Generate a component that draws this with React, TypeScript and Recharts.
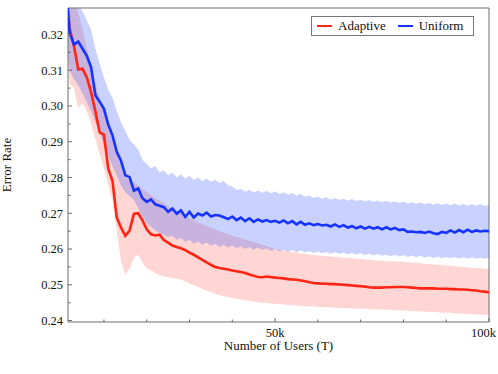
import { ComposedChart, Area, Line, XAxis, YAxis, ReferenceArea, Label } from 'recharts';

// number of users, in thousands
const USERS_K = [
  1, 2, 3, 4, 5, 6, 7, 8, 9, 10, 11, 12, 13, 14, 15, 16, 17, 18, 19, 20,
  21, 22, 23, 24, 25, 26, 27, 28, 29, 30, 31, 32, 33, 34, 35, 36, 37, 38, 39, 40,
  41, 42, 43, 44, 45, 46, 47, 48, 49, 50, 51, 52, 53, 54, 55, 56, 57, 58, 59, 60,
  61, 62, 63, 64, 65, 66, 67, 68, 69, 70, 71, 72, 73, 74, 75, 76, 77, 78, 79, 80,
  81, 82, 83, 84, 85, 86, 87, 88, 89, 90, 91, 92, 93, 94, 95, 96, 97, 98, 99, 100,
];

const ADAPTIVE_MEAN = [
  0.3330, 0.3215, 0.3168, 0.3102, 0.3104, 0.3080, 0.3038, 0.2985, 0.2926, 0.2920,
  0.2825, 0.2790, 0.2688, 0.2660, 0.2637, 0.2652, 0.2698, 0.2700, 0.2680, 0.2655,
  0.2641, 0.2638, 0.2640, 0.2625, 0.2618, 0.2610, 0.2606, 0.2602, 0.2597, 0.2590,
  0.2584, 0.2577, 0.2570, 0.2563, 0.2556, 0.2550, 0.2547, 0.2545, 0.2543, 0.2540,
  0.2538, 0.2536, 0.2533, 0.2529, 0.2525, 0.2522, 0.2521, 0.2523, 0.2522, 0.2520,
  0.2519, 0.2518, 0.2516, 0.2515, 0.2514, 0.2512, 0.2510, 0.2507, 0.2505, 0.2504,
  0.2503, 0.2503, 0.2502, 0.2502, 0.2501, 0.2500, 0.2499, 0.2498, 0.2497, 0.2496,
  0.2495, 0.2493, 0.2492, 0.2492, 0.2492, 0.2493, 0.2493, 0.2494, 0.2494, 0.2494,
  0.2493, 0.2492, 0.2491, 0.2490, 0.2490, 0.2490, 0.2490, 0.2489, 0.2489, 0.2489,
  0.2488, 0.2488, 0.2487, 0.2487, 0.2486, 0.2485, 0.2484, 0.2482, 0.2481, 0.2479,
];

const ADAPTIVE_LOW = [
  0.3220, 0.3062, 0.3050, 0.2995, 0.3008, 0.2985, 0.2950, 0.2908, 0.2865, 0.2825,
  0.2780, 0.2735, 0.2650, 0.2565, 0.2528, 0.2545, 0.2576, 0.2584, 0.2562, 0.2546,
  0.2540, 0.2533, 0.2527, 0.2523, 0.2521, 0.2519, 0.2517, 0.2514, 0.2509, 0.2504,
  0.2499, 0.2494, 0.2488, 0.2484, 0.2479, 0.2475, 0.2471, 0.2468, 0.2466, 0.2463,
  0.2461, 0.2459, 0.2457, 0.2455, 0.2453, 0.2451, 0.2450, 0.2449, 0.2448, 0.2447,
  0.2446, 0.2445, 0.2444, 0.2443, 0.2442, 0.2441, 0.2440, 0.2440, 0.2439, 0.2438,
  0.2438, 0.2437, 0.2437, 0.2436, 0.2436, 0.2435, 0.2435, 0.2434, 0.2434, 0.2433,
  0.2433, 0.2432, 0.2432, 0.2431, 0.2431, 0.2430, 0.2430, 0.2429, 0.2429, 0.2428,
  0.2428, 0.2427, 0.2426, 0.2426, 0.2425, 0.2424, 0.2424, 0.2423, 0.2422, 0.2422,
  0.2421, 0.2420, 0.2420, 0.2419, 0.2418, 0.2418, 0.2417, 0.2416, 0.2416, 0.2415,
];

const ADAPTIVE_HIGH = [
  0.3420, 0.3340, 0.3295, 0.3260, 0.3215, 0.3160, 0.3110, 0.3062, 0.3020, 0.2985,
  0.2948, 0.2905, 0.2865, 0.2830, 0.2800, 0.2793, 0.2786, 0.2778, 0.2768, 0.2760,
  0.2751, 0.2742, 0.2735, 0.2728, 0.2720, 0.2713, 0.2706, 0.2700, 0.2693, 0.2686,
  0.2680, 0.2675, 0.2670, 0.2665, 0.2660, 0.2655, 0.2650, 0.2646, 0.2642, 0.2638,
  0.2634, 0.2630, 0.2627, 0.2623, 0.2620, 0.2616, 0.2612, 0.2608, 0.2604, 0.2600,
  0.2598, 0.2596, 0.2594, 0.2592, 0.2590, 0.2588, 0.2586, 0.2585, 0.2583, 0.2582,
  0.2581, 0.2580, 0.2579, 0.2578, 0.2577, 0.2576, 0.2575, 0.2574, 0.2573, 0.2572,
  0.2571, 0.2570, 0.2569, 0.2568, 0.2567, 0.2566, 0.2566, 0.2565, 0.2565, 0.2564,
  0.2563, 0.2562, 0.2561, 0.2560, 0.2559, 0.2558, 0.2557, 0.2556, 0.2555, 0.2554,
  0.2553, 0.2552, 0.2551, 0.2550, 0.2549, 0.2548, 0.2547, 0.2546, 0.2545, 0.2544,
];

const UNIFORM_MEAN = [
  0.3360, 0.3204, 0.3172, 0.3180, 0.3160, 0.3140, 0.3108, 0.3030, 0.3012, 0.2992,
  0.2948, 0.2918, 0.2872, 0.2846, 0.2806, 0.2801, 0.2763, 0.2769, 0.2742, 0.2732,
  0.2739, 0.2725, 0.2721, 0.2717, 0.2704, 0.2713, 0.2699, 0.2708, 0.2690, 0.2704,
  0.2688, 0.2699, 0.2694, 0.2702, 0.2691, 0.2695, 0.2694, 0.2689, 0.2684, 0.2691,
  0.2681, 0.2688, 0.2678, 0.2686, 0.2676, 0.2683, 0.2677, 0.2681, 0.2676, 0.2679,
  0.2674, 0.2680, 0.2672, 0.2678, 0.2669, 0.2676, 0.2668, 0.2672, 0.2667, 0.2670,
  0.2666, 0.2668, 0.2663, 0.2669, 0.2662, 0.2667, 0.2660, 0.2664, 0.2658, 0.2663,
  0.2657, 0.2662, 0.2657, 0.2661, 0.2655, 0.2661, 0.2655, 0.2659, 0.2653, 0.2655,
  0.2648, 0.2649, 0.2647, 0.2648, 0.2645, 0.2649, 0.2644, 0.2642, 0.2648, 0.2645,
  0.2652, 0.2646, 0.2653, 0.2647, 0.2654, 0.2648, 0.2652, 0.2649, 0.2651, 0.2650,
];

const UNIFORM_LOW = [
  0.3180, 0.3100, 0.3075, 0.3058, 0.3035, 0.3010, 0.2985, 0.2955, 0.2925, 0.2890,
  0.2860, 0.2832, 0.2805, 0.2778, 0.2758, 0.2748, 0.2738, 0.2715, 0.2692, 0.2672,
  0.2662, 0.2652, 0.2645, 0.2640, 0.2633, 0.2637, 0.2626, 0.2631, 0.2620, 0.2626,
  0.2615, 0.2621, 0.2612, 0.2618, 0.2609, 0.2615, 0.2606, 0.2612, 0.2604, 0.2610,
  0.2602, 0.2608, 0.2600, 0.2606, 0.2598, 0.2604, 0.2597, 0.2602, 0.2595, 0.2600,
  0.2594, 0.2598, 0.2592, 0.2597, 0.2591, 0.2596, 0.2590, 0.2594, 0.2589, 0.2593,
  0.2588, 0.2592, 0.2587, 0.2591, 0.2586, 0.2590, 0.2585, 0.2589, 0.2584, 0.2588,
  0.2583, 0.2587, 0.2582, 0.2586, 0.2581, 0.2585, 0.2580, 0.2584, 0.2579, 0.2583,
  0.2578, 0.2582, 0.2577, 0.2581, 0.2576, 0.2580, 0.2575, 0.2579, 0.2574, 0.2578,
  0.2574, 0.2578, 0.2573, 0.2577, 0.2573, 0.2577, 0.2573, 0.2576, 0.2573, 0.2576,
];

const UNIFORM_HIGH = [
  0.3450, 0.3360, 0.3310, 0.3280, 0.3265, 0.3240, 0.3212, 0.3160, 0.3118, 0.3080,
  0.3045, 0.3022, 0.2985, 0.2955, 0.2930, 0.2905, 0.2892, 0.2878, 0.2848, 0.2838,
  0.2826, 0.2832, 0.2814, 0.2820, 0.2806, 0.2813, 0.2800, 0.2809, 0.2797, 0.2805,
  0.2793, 0.2800, 0.2790, 0.2797, 0.2788, 0.2794, 0.2785, 0.2790, 0.2778, 0.2775,
  0.2765, 0.2768, 0.2760, 0.2766, 0.2758, 0.2764, 0.2757, 0.2763, 0.2756, 0.2761,
  0.2754, 0.2759, 0.2752, 0.2757, 0.2749, 0.2754, 0.2746, 0.2750, 0.2743, 0.2747,
  0.2740, 0.2745, 0.2738, 0.2743, 0.2737, 0.2741, 0.2735, 0.2740, 0.2734, 0.2738,
  0.2733, 0.2737, 0.2732, 0.2736, 0.2731, 0.2735, 0.2730, 0.2733, 0.2729, 0.2732,
  0.2727, 0.2731, 0.2726, 0.2730, 0.2725, 0.2729, 0.2724, 0.2728, 0.2723, 0.2727,
  0.2722, 0.2727, 0.2722, 0.2726, 0.2721, 0.2726, 0.2721, 0.2725, 0.2721, 0.2723,
];

const Y_TICKS = [
  0.24, 0.245, 0.25, 0.255, 0.26, 0.265, 0.27, 0.275, 0.28, 0.285,
  0.29, 0.295, 0.3, 0.305, 0.31, 0.315, 0.32, 0.325,
];
const X_TICKS = [10, 20, 30, 40, 50, 60, 70, 80, 90, 100];
const X_LABELS: Record<number, string> = { 50: '50k', 100: '100k' };

const X_DOMAIN: [number, number] = [1.6, 100];
const Y_DOMAIN: [number, number] = [0.2396, 0.3274];

const RED = '#ff2414';
const BLUE = '#1633ff';
const FONT = 'Liberation Serif, DejaVu Serif, serif';
const TICK_MARGIN = 5;

const SERIES = [
  { name: 'Adaptive', color: RED },
  { name: 'Uniform', color: BLUE },
];

const data = USERS_K.map((u, i) => ({
  users: u,
  adaptive: ADAPTIVE_MEAN[i],
  uniform: UNIFORM_MEAN[i],
  adaptiveBand: [ADAPTIVE_LOW[i], ADAPTIVE_HIGH[i]],
  uniformBand: [UNIFORM_LOW[i], UNIFORM_HIGH[i]],
}));

const isMajor = (v: number) => Math.abs(v * 100 - Math.round(v * 100)) < 1e-6;
const textStyle = { fontFamily: FONT, fontSize: 12.5, fill: '#111' };

function YTick({ x, y, payload }: any) {
  const axisX = x + TICK_MARGIN;
  const major = isMajor(payload.value);
  return (
    <g>
      <line x1={axisX} x2={axisX + (major ? 4 : 2.5)} y1={y} y2={y} stroke="#666" />
      {major && (
        <text x={x} y={y} dy={4.3} textAnchor="end" style={textStyle}>
          {payload.value.toFixed(2)}
        </text>
      )}
    </g>
  );
}

function XTick({ x, y, payload }: any) {
  const axisY = y - TICK_MARGIN;
  const label = X_LABELS[payload.value];
  // the last label is pulled in so it stays inside the picture
  const last = payload.value === X_TICKS[X_TICKS.length - 1];
  return (
    <g>
      <line x1={x} x2={x} y1={axisY} y2={axisY - (label ? 4 : 2.5)} stroke="#666" />
      {label && (
        <text
          x={last ? x + 7 : x}
          y={axisY + 14.5}
          textAnchor={last ? 'end' : 'middle'}
          style={textStyle}
        >
          {label}
        </text>
      )}
    </g>
  );
}

export default function App() {
  return (
    <div style={{ position: 'absolute', left: 0, top: 0, width: 498, height: 374, background: '#fff' }}>
      <ComposedChart width={498} height={374} data={data} margin={{ top: 8, right: 9, bottom: 0, left: 8 }}>
        <XAxis
          dataKey="users"
          type="number"
          domain={X_DOMAIN}
          allowDataOverflow
          ticks={X_TICKS}
          interval={0}
          tick={<XTick />}
          tickLine={false}
          tickSize={0}
          tickMargin={TICK_MARGIN}
          axisLine={false}
          height={52}
        >
          <Label
            content={({ viewBox }: any) => (
              <text
                x={viewBox.x + viewBox.width / 2}
                y={viewBox.y + 28}
                textAnchor="middle"
                style={{ ...textStyle, fontSize: 13 }}
              >
                Number of Users (T)
              </text>
            )}
          />
        </XAxis>
        <YAxis
          type="number"
          domain={Y_DOMAIN}
          allowDataOverflow
          ticks={Y_TICKS}
          interval={0}
          tick={<YTick />}
          tickLine={false}
          tickSize={0}
          tickMargin={TICK_MARGIN}
          axisLine={false}
          width={60}
        >
          <Label
            content={({ viewBox }: any) => {
              const cx = viewBox.x + 2.5;
              const cy = viewBox.y + viewBox.height / 2;
              return (
                <text
                  x={cx}
                  y={cy}
                  transform={`rotate(-90, ${cx}, ${cy})`}
                  textAnchor="middle"
                  style={{ ...textStyle, fontSize: 13 }}
                >
                  Error Rate
                </text>
              );
            }}
          />
        </YAxis>
        <Area
          type="linear"
          dataKey="adaptiveBand"
          stroke="none"
          fill={RED}
          fillOpacity={0.19}
          isAnimationActive={false}
        />
        <Area
          type="linear"
          dataKey="uniformBand"
          stroke="none"
          fill="#3355ff"
          fillOpacity={0.27}
          isAnimationActive={false}
        />
        <Line type="linear" dataKey="adaptive" stroke={RED} strokeWidth={2.6} dot={false} isAnimationActive={false} />
        <Line type="linear" dataKey="uniform" stroke={BLUE} strokeWidth={2.6} dot={false} isAnimationActive={false} />
        <ReferenceArea
          x1={X_DOMAIN[0]}
          x2={X_DOMAIN[1]}
          y1={Y_DOMAIN[0]}
          y2={Y_DOMAIN[1]}
          fill="none"
          fillOpacity={0}
          stroke="#6f6f6f"
          strokeWidth={1}
        />
      </ComposedChart>

      {/* Legend */}
      <div
        style={{
          position: 'absolute',
          left: 311,
          top: 16,
          width: 161,
          height: 18,
          border: '1px solid #777',
          background: '#fff',
          display: 'flex',
          alignItems: 'center',
          fontFamily: FONT,
          fontSize: 13,
          color: '#111',
        }}
      >
        {SERIES.map((s, i) => (
          <div key={s.name} style={{ display: 'flex', alignItems: 'center', marginLeft: i === 0 ? 5 : 12 }}>
            <div style={{ width: 15, height: 2.6, background: s.color, marginRight: 6 }} />
            <span>{s.name}</span>
          </div>
        ))}
      </div>
    </div>
  );
}
